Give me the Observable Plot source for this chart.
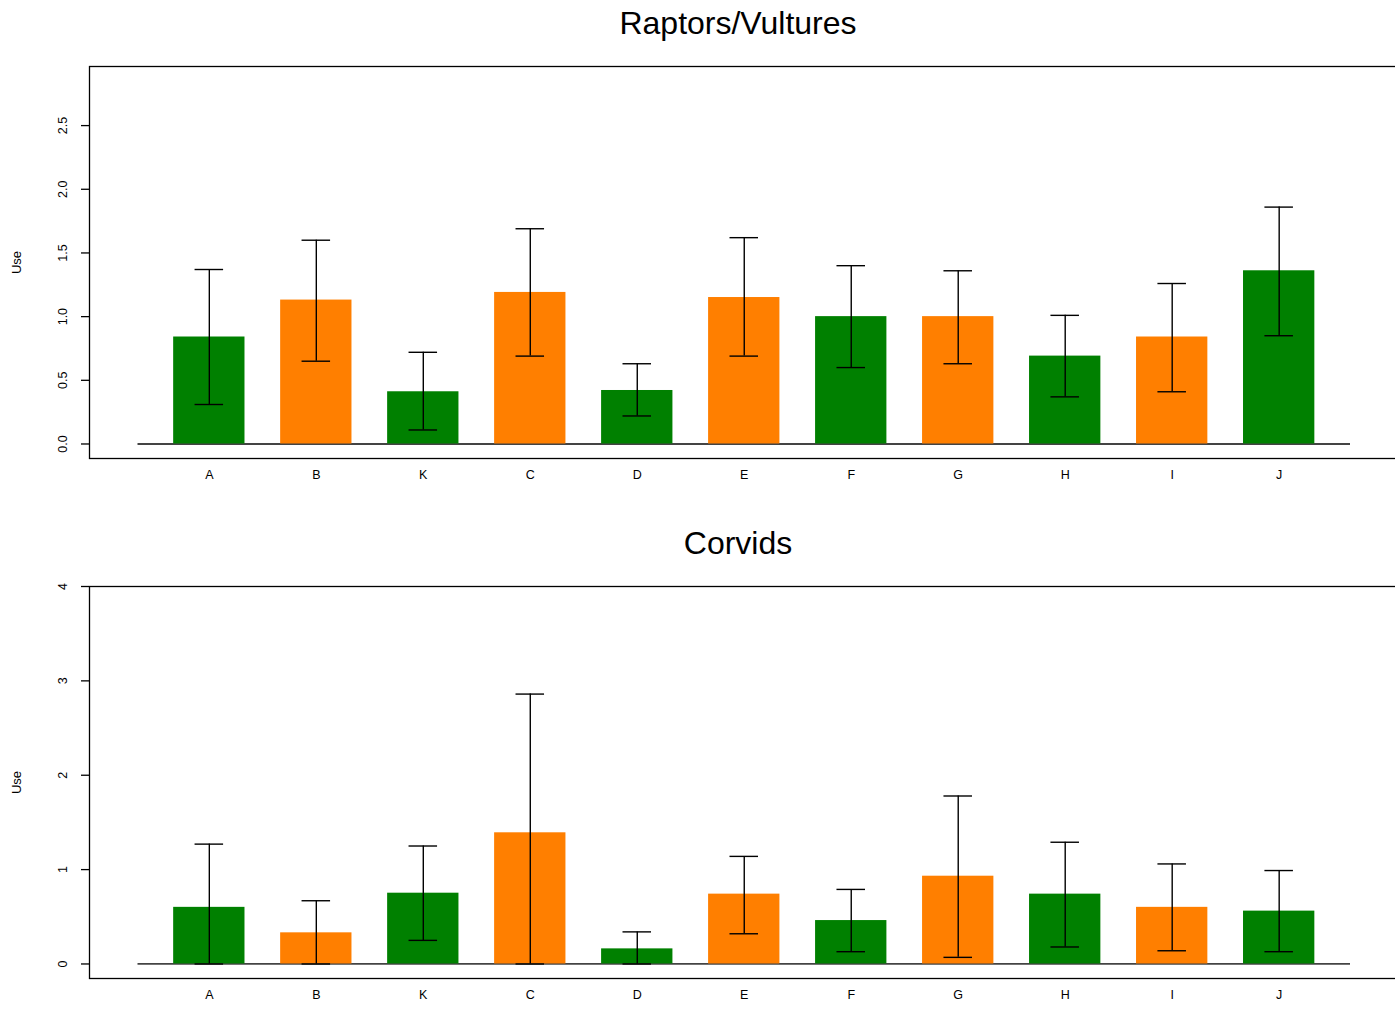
<!DOCTYPE html>
<html>
<head>
<meta charset="utf-8">
<script src="https://cdn.jsdelivr.net/npm/d3@7"></script>
<script src="https://cdn.jsdelivr.net/npm/@observablehq/plot@0.6"></script>
<style>
  html, body { margin: 0; padding: 0; background: #fff; overflow: hidden; }
  body { width: 1395px; height: 1013px; position: relative; font-family: "Liberation Sans", Arial, Helvetica, sans-serif; }
  .title { position: absolute; left: 0; width: 1476px; text-align: center; font-size: 32px; line-height: 44px; color: #000; }
  .panel { position: absolute; left: 0; }
  .panel svg { max-width: none !important; overflow: visible; }
</style>
</head>
<body>
<div class="title" style="top:1px">Raptors/Vultures</div>
<div class="panel" id="p1" style="top:50px"></div>
<div class="title" style="top:521px">Corvids</div>
<div class="panel" id="p2" style="top:570px"></div>
<script>
// categories in plotted order
const categories = ["A", "B", "K", "C", "D", "E", "F", "G", "H", "I", "J"];
const groups = ["g", "o", "g", "o", "g", "o", "g", "o", "g", "o", "g"];

// Raptors/Vultures
const raptorMean  = [0.84, 1.13, 0.41, 1.19, 0.42, 1.15, 1.00, 1.00, 0.69, 0.84, 1.36];
const raptorUpper = [1.37, 1.60, 0.72, 1.69, 0.63, 1.62, 1.40, 1.36, 1.01, 1.26, 1.86];
const raptorLower = [0.31, 0.65, 0.11, 0.69, 0.22, 0.69, 0.60, 0.63, 0.37, 0.41, 0.85];
const raptorTicks = [0, 0.5, 1.0, 1.5, 2.0, 2.5];

// Corvids
const corvidMean  = [0.60, 0.33, 0.75, 1.39, 0.16, 0.74, 0.46, 0.93, 0.74, 0.60, 0.56];
const corvidUpper = [1.27, 0.67, 1.25, 2.86, 0.34, 1.14, 0.79, 1.78, 1.29, 1.06, 0.99];
const corvidLower = [0.00, 0.00, 0.25, 0.00, 0.00, 0.32, 0.13, 0.07, 0.18, 0.14, 0.13];
const corvidTicks = [0, 1, 2, 3, 4];

const colorMap = {g: "#008000", o: "#FF7F00"};

function panel(mean, upper, lower, ticks, yDomain, tickFmt, height, marginBottom) {
  const data = categories.map((c, i) => ({
    cat: c, pos: 1 + 1.5 * i, mean: mean[i], upper: upper[i], lower: lower[i], grp: groups[i]
  }));
  const xMin = data[0].pos - 1, xMax = data[data.length - 1].pos + 1;
  const pad = (xMax - xMin) * 0.04;
  const font = "Liberation Sans, Arial, Helvetica, sans-serif";
  return Plot.plot({
    width: 1395,
    height,
    marginLeft: 89,
    marginRight: -3.5,
    marginTop: 16,
    marginBottom,
    style: {fontFamily: font, fontSize: "12.5px", color: "#000", background: "#fff", overflow: "visible"},
    x: {type: "linear", domain: [xMin - pad, xMax + pad], axis: null},
    y: {type: "linear", domain: yDomain, axis: null},
    marks: [
      Plot.frame({stroke: "#000", strokeWidth: 1.3}),
      Plot.ruleY([0], {x1: xMin, x2: xMax, stroke: "#444", strokeWidth: 1.8}),
      Plot.rectY(data, {x1: d => d.pos - 0.5, x2: d => d.pos + 0.5, y1: 0, y2: "mean", fill: d => colorMap[d.grp]}),
      Plot.ruleX(data, {x: "pos", y1: "lower", y2: "upper", stroke: "#000", strokeWidth: 1.4}),
      Plot.ruleY(data, {y: "upper", x1: d => d.pos - 0.2, x2: d => d.pos + 0.2, stroke: "#000", strokeWidth: 1.4}),
      Plot.ruleY(data, {y: "lower", x1: d => d.pos - 0.2, x2: d => d.pos + 0.2, stroke: "#000", strokeWidth: 1.4}),
      Plot.axisY({ticks, tickSize: 8, tickFormat: () => "", stroke: "#000", strokeWidth: 1.3, label: null}),
      Plot.text(ticks, {y: d => d, text: tickFmt, frameAnchor: "left", dx: -27, rotate: -90, textAnchor: "middle", lineAnchor: "middle", fontSize: 12.5, fill: "#000"}),
      Plot.text(["Use"], {frameAnchor: "left", dx: -73, rotate: -90, textAnchor: "middle", lineAnchor: "middle", fontSize: 13, fill: "#000"}),
      Plot.axisX({ticks: data.map(d => d.pos), tickFormat: p => categories[Math.round((p - 1) / 1.5)], tickSize: 0, tickPadding: 12, fontSize: 12.5, label: null})
    ]
  });
}

document.getElementById("p1").appendChild(
  panel(raptorMean, raptorUpper, raptorLower, raptorTicks, [-0.114, 2.964], d => d3.format(".1f")(d), 470, 62)
);
document.getElementById("p2").appendChild(
  panel(corvidMean, corvidUpper, corvidLower, corvidTicks, [-0.154, 4.0], d => String(d), 443, 35)
);
</script>
</body>
</html>
